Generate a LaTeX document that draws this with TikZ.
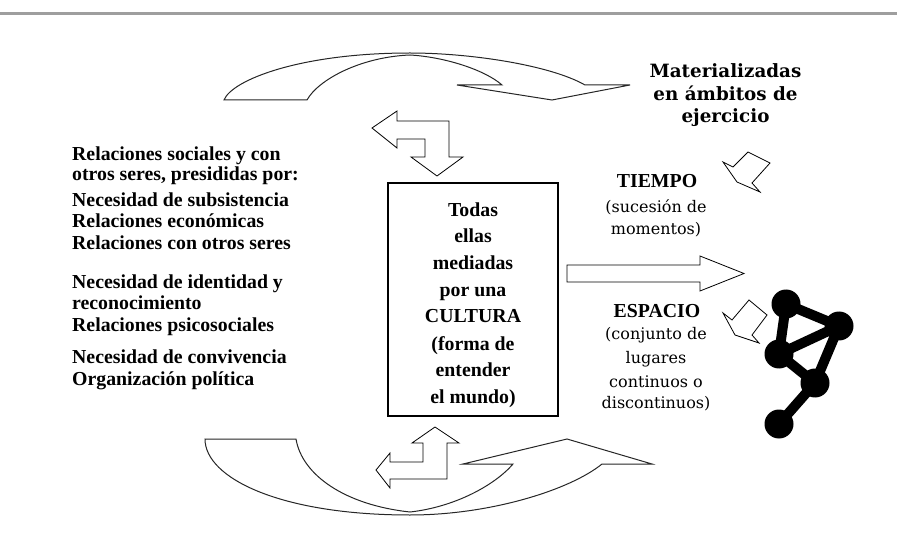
\documentclass[tikz,border=0pt]{standalone}
\usepackage{fontspec}
\setmainfont{Liberation Serif}
\newfontfamily\cent{DejaVu Serif}
\tikzset{
  lt/.style={anchor=base west, inner sep=0pt, font=\bfseries\fontsize{19.8}{22}\selectfont},
  bt/.style={anchor=base, inner sep=0pt, font=\bfseries\fontsize{19.8}{22}\selectfont},
  ct/.style={anchor=base, inner sep=0pt, font=\cent\bfseries\fontsize{18.3}{20}\selectfont},
  rt/.style={anchor=base, inner sep=0pt, font=\cent\fontsize{16}{20}\selectfont},
  arrowshape/.style={draw=black, line width=0.8pt, fill=white, line join=miter},
  ribbon/.style={draw=black!85, line width=1pt, fill=white, line join=miter},
  atom/.style={circle, fill=black, inner sep=0pt, minimum size=29pt},
  bond/.style={line width=10pt, black},
}
\begin{document}
\begin{tikzpicture}[x=1pt,y=-1pt]
\useasboundingbox (0,0) rectangle (897,553);
% top rule
\draw[line width=3pt, black!38] (0,14) -- (897,14);

% top curved ribbon arrow
\draw[ribbon] (224,100) .. controls (232,80) and (300,53) .. (410,53)
  .. controls (470,53) and (550,65) .. (585,85)
  -- (630,85) -- (552,100) -- (457,85) -- (502,85)
  .. controls (485,70) and (445,57) .. (410,55)
  .. controls (360,57) and (318,80) .. (307,100) -- cycle;

% bottom curved ribbon arrow
\draw[ribbon] (205,439) .. controls (205,478) and (280,515) .. (410,515)
  .. controls (490,515) and (570,490) .. (602,464)
  -- (652,464) -- (567,439) -- (463,464) -- (513,464)
  .. controls (495,485) and (455,507) .. (410,512)
  .. controls (345,505) and (302,475) .. (296,439) -- cycle;

% upper bent arrow
\draw[arrowshape] (372,128) -- (397,111) -- (397,121) -- (449,121) -- (449,157)
  -- (463,157) -- (437,176) -- (411,157) -- (425,157) -- (425,139)
  -- (397,139) -- (397,148) -- cycle;

% lower bent arrow
\draw[arrowshape] (435,427) -- (459,443) -- (447,443) -- (447,479) -- (390,479)
  -- (390,488) -- (376,470) -- (390,453) -- (390,462) -- (423,462)
  -- (423,443) -- (412,443) -- cycle;

% big right arrow
\draw[arrowshape] (567,265) -- (700,265) -- (700,256) -- (744,273.5)
  -- (700,291) -- (700,282) -- (567,282) -- cycle;

% small arrows near TIEMPO and ESPACIO
\draw[arrowshape] (748,152) -- (770,163) -- (752,183) -- (760,192) -- (737,182)
  -- (723,162) -- (733,167) -- cycle;
\draw[arrowshape] (749,300) -- (767,315) -- (752,335) -- (759,343) -- (735,335)
  -- (723,313) -- (732,320) -- cycle;

% central box
\node[draw, line width=1.5pt, minimum width=170pt, minimum height=233pt, inner sep=0pt] (box) at (473,299.5) {};
\node[bt] (b1) at (473,217) {Todas};
\node[bt] (b2) at (473,243) {ellas};
\node[bt] (b3) at (473,270) {mediadas};
\node[bt] (b4) at (473,297) {por una};
\node[bt] (b5) at (473,323) {CULTURA};
\node[bt] (b6) at (473,350) {(forma de};
\node[bt] (b7) at (473,377) {entender};
\node[bt] (b8) at (473,403) {el mundo)};

% left text
\node[lt] (l1) at (72,161) {Relaciones sociales y con};
\node[lt] (l2) at (72,181) {otros seres, presididas por:};
\node[lt] (l3) at (72,207) {Necesidad de subsistencia};
\node[lt] (l4) at (72,228) {Relaciones económicas};
\node[lt] (l5) at (72,250) {Relaciones con otros seres};
\node[lt] (l6) at (72,289) {Necesidad de identidad y};
\node[lt] (l7) at (72,310) {reconocimiento};
\node[lt] (l8) at (72,332) {Relaciones psicosociales};
\node[lt] (l9) at (72,363) {Necesidad de convivencia};
\node[lt] (l10) at (72,385) {Organización política};

% right text
\node[ct] (m1) at (725.5,78) {Materializadas};
\node[ct] (m2) at (725.5,101) {en ámbitos de};
\node[ct] (m3) at (725.5,123) {ejercicio};
\node[bt] (t1) at (657,188) {TIEMPO};
\node[rt] (t2) at (656,213) {(sucesión de};
\node[rt] (t3) at (656,235) {momentos)};
\node[bt] (e1) at (657,318) {ESPACIO};
\node[rt] (e2) at (656,340) {(conjunto de};
\node[rt] (e3) at (656,363) {lugares};
\node[rt] (e4) at (656,387) {continuos o};
\node[rt] (e5) at (656,408) {discontinuos)};

% molecule
\node[atom] (a1) at (786,304) {};
\node[atom] (a2) at (839,326) {};
\node[atom] (a3) at (779,354) {};
\node[atom] (a4) at (815,383) {};
\node[atom] (a5) at (779,424) {};
\draw[bond] (a1.center) -- (a2.center);
\draw[bond] (a1.center) -- (a3.center);
\draw[bond] (a3.center) -- (a2.center);
\draw[bond] (a3.center) -- (a4.center);
\draw[bond] (a2.center) -- (a4.center);
\draw[bond] (a4.center) -- (a5.center);
\end{tikzpicture}
\end{document}
